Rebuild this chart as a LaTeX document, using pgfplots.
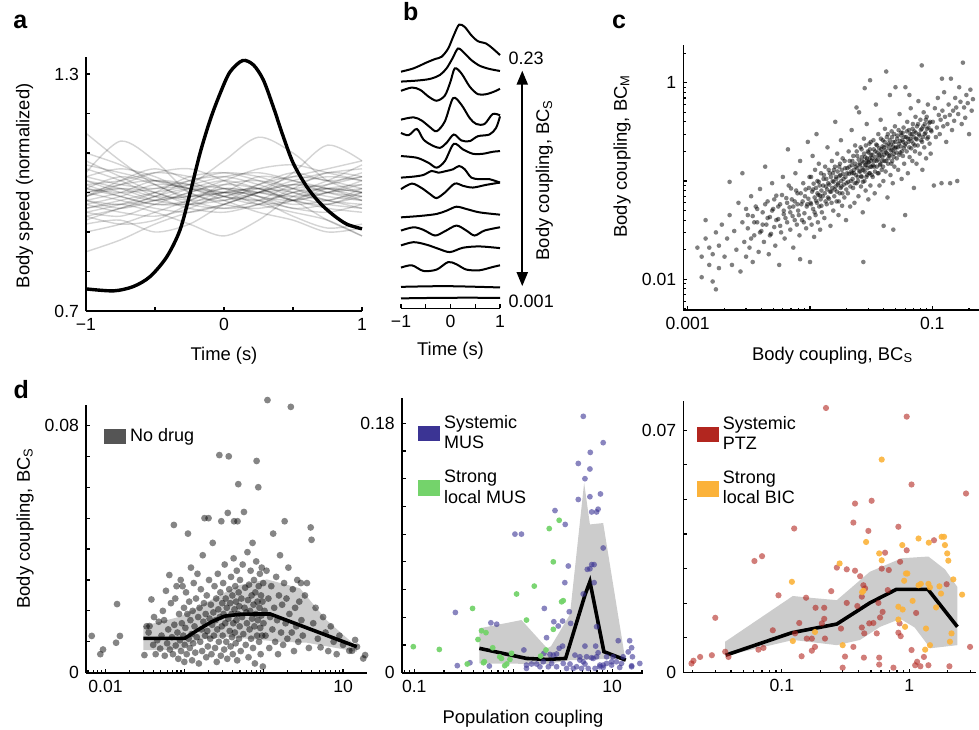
\documentclass[border=0pt]{standalone}
\usepackage{fontspec}
\setmainfont{Liberation Sans}
\usepackage{pgfplots}
\usepackage{pgfplotstable}
\pgfplotsset{compat=1.18}
\usetikzlibrary{arrows.meta}

\definecolor{musC}{HTML}{3B3494}
\definecolor{lmusC}{HTML}{74D36B}
\definecolor{ptzC}{HTML}{B2261F}
\definecolor{bicC}{HTML}{FBB23A}
\definecolor{nodrugC}{HTML}{555555}
\definecolor{shadeC}{HTML}{CCCCCC}

\pgfplotsset{
  panel/.style={
    scale only axis, axis lines*=left, enlargelimits=false, clip=false,
    tick align=inside, scaled ticks=false,
    axis line style={line width=0.8pt},
    major tick length=2pt, minor tick length=1.2pt,
    tick style={black, line width=0.6pt},
    tick label style={font=\fontsize{8.8}{10}\selectfont},
    label style={font=\fontsize{9.2}{11}\selectfont},
    /pgf/number format/assume math mode=true,
  },
  bg/.style={black, opacity=0.17, line width=0.7pt, smooth},
  tr/.style={black, line width=1pt, smooth},
  dots/.style n args={3}{only marks, mark=*, mark size=#1,
    mark options={draw=#2, line width=0pt, draw opacity=0, fill=#2, fill opacity=#3}},
  sq/.style={legend image code/.code={\fill[#1] (0pt,-3.6pt) rectangle (10.5pt,3.6pt);}},
  leg/.style={legend style={draw=none, fill=none, inner sep=0pt, row sep=5pt,
    font=\fontsize{9}{10.35}\selectfont, cells={anchor=west, align=left}},
    legend cell align=left},
}

% panel c: body coupling BC_S vs BC_M (subset of the cloud)
\pgfplotstableread{
x y
0.0012 0.021
0.0013 0.0105
0.0013 0.017
0.0014 0.040
0.0014 0.026
0.0015 0.014
0.0015 0.021
0.0016 0.018
0.0016 0.0095
0.0017 0.0079
0.0017 0.030
0.0018 0.022
0.0018 0.013
0.0019 0.036
0.0020 0.017
0.0021 0.026
0.0022 0.098
0.0022 0.045
0.0023 0.014
0.0024 0.031
0.0025 0.020
0.0026 0.060
0.0027 0.012
0.0028 0.120
0.0028 0.038
0.0029 0.024
0.0030 0.017
0.0030 0.052
0.0031 0.033
0.0031 0.045
0.0032 0.021
0.0033 0.070
0.0033 0.026
0.0034 0.044
0.0034 0.015
0.0035 0.028
0.0035 0.038
0.0036 0.055
0.0037 0.038
0.0037 0.052
0.0038 0.019
0.0039 0.083
0.0039 0.030
0.0040 0.031
0.0041 0.048
0.0041 0.036
0.0042 0.024
0.0043 0.140
0.0043 0.058
0.0044 0.036
0.0045 0.062
0.0045 0.042
0.0046 0.018
0.0047 0.043
0.0047 0.028
0.0048 0.029
0.0049 0.095
0.0049 0.050
0.0050 0.052
0.0051 0.034
0.0051 0.065
0.0052 0.022
0.0053 0.071
0.0053 0.040
0.0055 0.041
0.0055 0.055
0.0056 0.014
0.0057 0.058
0.0057 0.035
0.0058 0.030
0.0059 0.072
0.0060 0.110
0.0061 0.046
0.0061 0.050
0.0062 0.026
0.0063 0.042
0.0064 0.067
0.0065 0.038
0.0065 0.060
0.0066 0.210
0.0067 0.090
0.0068 0.054
0.0069 0.032
0.0069 0.048
0.0070 0.084
0.0071 0.065
0.0072 0.044
0.0073 0.021
0.0073 0.055
0.0075 0.062
0.0075 0.040
0.0076 0.120
0.0077 0.080
0.0078 0.036
0.0079 0.075
0.0079 0.058
0.0080 0.050
0.0081 0.045
0.0082 0.028
0.0083 0.160
0.0083 0.016
0.0084 0.075
0.0085 0.058
0.0086 0.040
0.0087 0.062
0.0088 0.095
0.0089 0.038
0.0090 0.047
0.0091 0.070
0.0092 0.082
0.0093 0.033
0.0094 0.055
0.0095 0.058
0.0096 0.250
0.0097 0.066
0.0098 0.085
0.0099 0.042
0.0099 0.110
0.0100 0.015
0.0101 0.060
0.0102 0.110
0.0102 0.058
0.0103 0.036
0.0104 0.078
0.0105 0.180
0.0106 0.052
0.0106 0.082
0.0107 0.094
0.0108 0.027
0.0109 0.068
0.0109 0.048
0.0110 0.130
0.0111 0.045
0.0112 0.085
0.0112 0.063
0.0113 0.300
0.0114 0.060
0.0115 0.100
0.0115 0.075
0.0116 0.038
0.0117 0.072
0.0118 0.150
0.0118 0.098
0.0119 0.055
0.0120 0.090
0.0121 0.032
0.0121 0.071
0.0122 0.065
0.0123 0.120
0.0124 0.080
0.0124 0.056
0.0125 0.048
0.0127 0.070
0.0128 0.090
0.0129 0.105
0.0130 0.115
0.0131 0.042
0.0132 0.075
0.0133 0.140
0.0134 0.062
0.0135 0.088
0.0136 0.105
0.0137 0.058
0.0138 0.082
0.0139 0.220
0.0140 0.068
0.0141 0.095
0.0142 0.130
0.0143 0.066
0.0144 0.092
0.0145 0.120
0.0146 0.078
0.0147 0.035
0.0148 0.110
0.0149 0.078
0.0150 0.060
0.0151 0.160
0.0152 0.085
0.0153 0.100
0.0154 0.120
0.0155 0.050
0.0156 0.098
0.0157 0.130
0.0158 0.070
0.0159 0.082
0.0160 0.140
0.0161 0.400
0.0162 0.088
0.0163 0.110
0.0164 0.105
0.0165 0.062
0.0166 0.078
0.0167 0.190
0.0168 0.125
0.0169 0.092
0.0170 0.095
0.0171 0.045
0.0172 0.062
0.0173 0.140
0.0174 0.112
0.0175 0.075
0.0176 0.150
0.0177 0.115
0.0178 0.085
0.0179 0.260
0.0180 0.100
0.0181 0.088
0.0182 0.130
0.0183 0.056
0.0184 0.075
0.0185 0.170
0.0186 0.118
0.0188 0.105
0.0189 0.092
0.0191 0.068
0.0192 0.160
0.0194 0.135
0.0195 0.110
0.0197 0.040
0.0198 0.082
0.0199 0.095
0.0201 0.120
0.0202 0.135
0.0204 0.075
0.0205 0.098
0.0207 0.200
0.0208 0.118
0.0210 0.140
0.0211 0.160
0.0213 0.055
0.0214 0.088
0.0216 0.100
0.0217 0.125
0.0219 0.330
0.0220 0.120
0.0220 0.145
0.0222 0.160
0.0223 0.105
0.0225 0.085
0.0226 0.180
0.0228 0.120
0.0229 0.130
0.0231 0.060
0.0232 0.095
0.0234 0.230
0.0235 0.150
0.0237 0.140
0.0238 0.115
0.0240 0.095
0.0240 0.560
0.0241 0.200
0.0243 0.180
0.0244 0.135
0.0246 0.110
0.0247 0.100
0.0249 0.070
0.0250 0.165
0.0252 0.500
0.0253 0.125
0.0255 0.150
0.0256 0.145
0.0258 0.125
0.0259 0.220
0.0261 0.088
0.0262 0.112
0.0264 0.210
0.0265 0.110
0.0265 0.175
0.0267 0.160
0.0268 0.135
0.0270 0.048
0.0271 0.098
0.0273 0.130
0.0273 0.015
0.0274 0.155
0.0276 0.270
0.0277 0.190
0.0279 0.100
0.0280 0.880
0.0280 0.125
0.0282 0.175
0.0283 0.145
0.0285 0.080
0.0286 0.230
0.0288 0.145
0.0289 0.110
0.0290 0.160
0.0291 0.380
0.0292 0.170
0.0294 0.115
0.0295 0.135
0.0297 0.200
0.0298 0.155
0.0300 0.065
0.0301 0.195
0.0303 0.155
0.0304 0.120
0.0306 0.240
0.0307 0.170
0.0309 0.120
0.0310 0.210
0.0310 1.060
0.0311 0.140
0.0312 0.090
0.0314 0.250
0.0315 0.185
0.0317 0.160
0.0318 0.140
0.0320 0.115
0.0322 0.170
0.0324 0.185
0.0326 0.110
0.0328 0.145
0.0330 0.260
0.0332 0.210
0.0334 0.140
0.0336 0.160
0.0338 0.075
0.0340 0.125
0.0342 0.200
0.0344 0.175
0.0346 0.600
0.0348 0.235
0.0350 0.160
0.0352 0.140
0.0354 0.230
0.0356 0.195
0.0358 0.120
0.0360 0.165
0.0362 0.300
0.0364 0.120
0.0366 0.185
0.0368 0.215
0.0370 0.090
0.0372 0.180
0.0374 0.145
0.0376 0.150
0.0378 0.420
0.0380 0.270
0.0382 0.210
0.0384 0.195
0.0386 0.130
0.0388 0.160
0.0390 0.175
0.0392 0.225
0.0394 0.260
0.0396 0.140
0.0398 0.100
0.0400 0.035
0.0402 0.220
0.0404 0.185
0.0406 0.160
0.0408 0.250
0.0410 0.340
0.0412 0.205
0.0415 0.125
0.0418 0.160
0.0420 0.195
0.0420 1.300
0.0423 0.230
0.0425 0.280
0.0428 0.190
0.0430 0.068
0.0433 0.300
0.0435 0.150
0.0438 0.170
0.0440 0.240
0.0443 0.215
0.0445 0.180
0.0448 0.260
0.0450 0.750
0.0453 0.185
0.0455 0.115
0.0458 0.235
0.0460 0.205
0.0463 0.150
0.0465 0.320
0.0468 0.280
0.0470 0.160
0.0473 0.205
0.0475 0.095
0.0478 0.225
0.0480 0.250
0.0480 0.032
0.0483 0.175
0.0485 0.190
0.0488 0.300
0.0490 0.140
0.0493 0.215
0.0495 0.360
0.0498 0.250
0.0500 0.900
0.0505 0.220
0.0508 0.195
0.0512 0.170
0.0515 0.270
0.0519 0.290
0.0522 0.220
0.0526 0.130
0.0530 0.330
0.0533 0.240
0.0537 0.185
0.0540 0.480
0.0544 0.255
0.0547 0.195
0.0551 0.225
0.0554 0.310
0.0558 0.290
0.0561 0.105
0.0565 0.200
0.0568 0.260
0.0572 0.310
0.0575 0.180
0.0579 0.250
0.0582 0.350
0.0586 0.215
0.0589 0.150
0.0593 0.280
0.0596 0.230
0.0600 0.045
0.0603 0.900
0.0606 0.240
0.0610 0.280
0.0617 0.200
0.0620 0.320
0.0624 0.400
0.0631 0.120
0.0634 0.270
0.0638 0.250
0.0645 0.330
0.0648 0.220
0.0650 0.750
0.0652 0.175
0.0659 0.270
0.0662 0.300
0.0666 0.550
0.0673 0.215
0.0676 0.255
0.0680 0.300
0.0687 0.160
0.0690 0.340
0.0694 0.380
0.0701 0.240
0.0704 0.280
0.0708 0.085
0.0715 0.320
0.0718 0.230
0.0722 0.200
0.0729 0.450
0.0732 0.310
0.0736 0.270
0.0743 0.150
0.0746 0.265
0.0750 0.360
0.0760 0.230
0.0765 0.380
0.0770 0.650
0.0780 0.300
0.0785 0.290
0.0790 0.190
0.0800 0.420
0.0805 0.330
0.0810 0.260
0.0820 0.340
0.0820 1.500
0.0825 0.250
0.0830 0.130
0.0840 0.280
0.0845 0.360
0.0850 0.500
0.0860 0.220
0.0865 0.300
0.0870 0.380
0.0880 0.310
0.0885 0.420
0.0890 0.170
0.0900 0.450
0.0905 0.340
0.0910 0.270
0.0920 0.600
0.0925 0.280
0.0930 0.350
0.0945 0.390
0.0950 0.240
0.0960 0.400
0.0970 0.190
0.0975 0.330
0.0985 0.320
0.101 0.400
0.103 0.090
0.105 0.550
0.107 0.280
0.109 0.350
0.111 0.700
0.113 0.470
0.115 0.300
0.117 0.420
0.119 0.095
0.120 1.100
0.121 0.520
0.123 0.360
0.125 0.800
0.127 0.450
0.130 0.250
0.133 0.380
0.136 0.600
0.139 0.470
0.140 0.095
0.142 1.100
0.145 0.330
0.148 0.520
0.151 0.410
0.154 0.700
0.157 0.560
0.160 0.100
0.163 0.480
0.166 0.900
0.170 0.640
0.174 0.380
0.178 1.600
0.182 0.560
0.186 0.440
0.190 0.750
0.195 0.620
0.200 0.300
0.205 0.850
0.210 0.520
0.215 0.680
}\ctab

% panel d, no drug
\pgfplotstableread{
x y
0.0067 0.0119
0.0086 0.0060
0.0093 0.0075
0.014 0.0222
0.0136 0.0097
0.0152 0.0119
0.031 0.0057
0.033 0.0150
0.035 0.0130
0.036 0.0151
0.038 0.0237
0.040 0.0090
0.041 0.0180
0.043 0.0060
0.045 0.0105
0.047 0.0165
0.049 0.0078
0.051 0.0120
0.053 0.0200
0.055 0.0170
0.056 0.0055
0.058 0.0265
0.060 0.0095
0.062 0.0140
0.064 0.0316
0.065 0.0075
0.067 0.0225
0.069 0.0115
0.071 0.0060
0.073 0.0478
0.074 0.0155
0.076 0.0240
0.077 0.0088
0.079 0.0280
0.081 0.0130
0.083 0.0045
0.085 0.0190
0.087 0.0105
0.089 0.0300
0.090 0.0070
0.092 0.0160
0.094 0.0280
0.096 0.0120
0.098 0.0210
0.099 0.0035
0.100 0.0090
0.102 0.0145
0.104 0.0260
0.106 0.0060
0.108 0.0190
0.110 0.0450
0.112 0.0110
0.114 0.0230
0.116 0.0080
0.118 0.0170
0.120 0.0340
0.122 0.0125
0.124 0.0040
0.126 0.0200
0.128 0.0095
0.130 0.0290
0.133 0.0150
0.136 0.0065
0.139 0.0240
0.142 0.0115
0.145 0.0320
0.148 0.0180
0.151 0.0030
0.154 0.0210
0.157 0.0100
0.160 0.0270
0.163 0.0140
0.166 0.0070
0.169 0.0380
0.172 0.0165
0.175 0.0225
0.178 0.0500
0.181 0.0120
0.184 0.0190
0.187 0.0050
0.190 0.0250
0.193 0.0135
0.196 0.0085
0.200 0.0500
0.203 0.0300
0.206 0.0175
0.210 0.0110
0.214 0.0220
0.218 0.0060
0.222 0.0155
0.226 0.0420
0.230 0.0195
0.234 0.0120
0.238 0.0280
0.242 0.0080
0.246 0.0170
0.250 0.0240
0.254 0.0035
0.258 0.0140
0.262 0.0320
0.266 0.0205
0.270 0.0100
0.274 0.0704
0.278 0.0180
0.282 0.0260
0.286 0.0055
0.290 0.0490
0.294 0.0150
0.298 0.0225
0.302 0.0120
0.306 0.0290
0.310 0.0190
0.315 0.0075
0.320 0.0350
0.325 0.0160
0.330 0.0240
0.335 0.0100
0.340 0.0210
0.345 0.0045
0.350 0.0517
0.355 0.0175
0.360 0.0700
0.365 0.0270
0.370 0.0135
0.375 0.0225
0.380 0.0085
0.385 0.0310
0.390 0.0190
0.395 0.0115
0.400 0.0250
0.405 0.0060
0.410 0.0160
0.415 0.0370
0.420 0.0490
0.425 0.0205
0.430 0.0130
0.435 0.0280
0.440 0.0095
0.445 0.0230
0.450 0.0170
0.455 0.0330
0.460 0.0040
0.465 0.0490
0.470 0.0190
0.475 0.0610
0.480 0.0260
0.485 0.0110
0.490 0.0215
0.495 0.0150
0.500 0.0300
0.510 0.0070
0.520 0.0240
0.530 0.0180
0.540 0.0350
0.550 0.0125
0.560 0.0520
0.570 0.0210
0.580 0.0275
0.590 0.0090
0.600 0.0195
0.610 0.0160
0.620 0.0390
0.630 0.0235
0.640 0.0050
0.650 0.0285
0.660 0.0140
0.670 0.0200
0.680 0.0330
0.690 0.0110
0.700 0.0250
0.710 0.0175
0.720 0.0420
0.730 0.0080
0.740 0.0220
0.750 0.0300
0.760 0.0150
0.770 0.0030
0.780 0.0260
0.790 0.0190
0.800 0.0360
0.810 0.0685
0.820 0.0120
0.830 0.0230
0.840 0.0170
0.850 0.0600
0.860 0.0280
0.870 0.0100
0.880 0.0210
0.890 0.0320
0.900 0.0145
0.910 0.0060
0.920 0.0250
0.930 0.0185
0.940 0.0340
0.950 0.0120
0.960 0.0230
0.970 0.0020
0.980 0.0290
0.990 0.0160
1.02 0.0200
1.05 0.0120
1.08 0.0330
1.11 0.0882
1.14 0.0240
1.17 0.0080
1.20 0.0180
1.24 0.0280
1.28 0.0140
1.31 0.0450
1.35 0.0210
1.39 0.0100
1.43 0.0310
1.47 0.0170
1.51 0.0060
1.55 0.0250
1.60 0.0380
1.65 0.0130
1.70 0.0220
1.75 0.0090
1.80 0.0290
1.83 0.0490
1.88 0.0160
1.93 0.0240
1.98 0.0110
2.04 0.0340
2.10 0.0190
2.19 0.0860
2.25 0.0130
2.32 0.0270
2.40 0.0070
2.48 0.0210
2.56 0.0150
2.64 0.0300
2.72 0.0100
2.80 0.0230
2.94 0.0290
2.98 0.0170
3.1 0.0120
3.3 0.0250
3.5 0.0290
3.7 0.0080
3.9 0.0470
4.0 0.0430
4.2 0.0160
4.5 0.0210
4.8 0.0110
5.2 0.0082
5.6 0.0180
6.0 0.0130
6.5 0.0070
7.0 0.0150
7.6 0.0100
8.3 0.0060
9.0 0.0120
10.0 0.0090
12.0 0.0071
13.0 0.0071
14.2 0.0106
15.0 0.0084
18.0 0.0046
19.0 0.0057
}\nodrugtab

% panel d, systemic MUS
\pgfplotstableread{
x y
5.1 0.185
8.1 0.166
6.0 0.159
4.54 0.151
5.95 0.147
5.3 0.140
4.54 0.125
5.95 0.127
7.6 0.129
7.2 0.118
6.95 0.116
6.2 0.116
2.64 0.117
3.35 0.107
1.04 0.100
1.21 0.100
8.1 0.090
6.2 0.078
5.95 0.075
5.6 0.0746
6.56 0.078
3.6 0.077
3.32 0.065
6.56 0.065
5.09 0.0568
3.68 0.044
3.8 0.0356
0.26 0.0435
0.594 0.036
0.68 0.035
2.06 0.0464
2.17 0.0253
2.57 0.0368
2.85 0.0337
3.15 0.0373
6.95 0.0332
11.5 0.0231
15.0 0.0231
15.7 0.018
14.5 0.015
0.272 0.0051
0.365 0.0072
0.573 0.0048
1.28 0.0164
1.36 0.0031
1.36 0.0055
1.53 0.0063
1.72 0.0063
1.86 0.0043
2.01 0.0079
2.04 0.0140
2.26 0.0043
2.35 0.0132
2.44 0.0067
2.54 0.0127
2.74 0.0135
2.74 0.0043
2.91 0.0176
3.15 0.0192
3.2 0.0067
3.46 0.0031
3.74 0.0063
4.04 0.0031
4.2 0.0127
4.36 0.0043
4.71 0.0115
4.71 0.0091
4.9 0.0031
5.09 0.0079
5.3 0.0063
5.3 0.0192
5.51 0.0115
5.72 0.0031
6.18 0.0108
6.43 0.0103
6.7 0.0031
6.8 0.0192
6.95 0.0115
7.2 0.0144
7.5 0.0043
7.5 0.0055
8.1 0.0055
8.1 0.0038
8.77 0.0067
8.77 0.0115
9.85 0.0079
9.85 0.0055
10.2 0.0115
11.0 0.0079
11.9 0.0038
12.4 0.0067
12.9 0.0115
15.7 0.0043
15.7 0.0050
16.0 0.0115
19.0 0.0067
}\mustab

% panel d, strong local MUS
\pgfplotstableread{
x y
0.0977 0.0188
0.179 0.0168
0.388 0.0464
0.343 0.0063
0.44 0.0240
0.478 0.0303
0.53 0.0289
0.50 0.0072
0.51 0.0080
0.62 0.0180
0.73 0.0115
0.76 0.0103
0.82 0.0051
0.86 0.0063
0.925 0.0096
0.96 0.0140
1.08 0.0568
1.36 0.0380
1.63 0.0625
1.89 0.0120
2.14 0.0164
2.31 0.104
2.54 0.080
2.54 0.0313
3.08 0.0512
3.2 0.052
2.91 0.110
}\lmustab

% panel d, systemic PTZ
\pgfplotstableread{
x y
0.0196 0.0026
0.0203 0.0034
0.0229 0.0045
0.0283 0.0050
0.0301 0.0158
0.036 0.0060
0.0382 0.0045
0.061 0.0322
0.070 0.0336
0.0656 0.0066
0.0718 0.0071
0.085 0.0122
0.0942 0.0223
0.125 0.0416
0.137 0.0143
0.127 0.0113
0.143 0.0047
0.155 0.0216
0.157 0.0098
0.172 0.0098
0.172 0.0063
0.184 0.0187
0.182 0.0074
0.215 0.0187
0.215 0.0155
0.206 0.0142
0.222 0.0764
0.244 0.0235
0.218 0.0098
0.270 0.0303
0.291 0.0127
0.313 0.0046
0.323 0.0298
0.323 0.0201
0.300 0.0014
0.375 0.0488
0.364 0.0433
0.375 0.0294
0.411 0.0278
0.391 0.0192
0.364 0.0074
0.424 0.0219
0.436 0.0252
0.450 0.0243
0.424 0.0130
0.443 0.0113
0.440 0.0043
0.477 0.0409
0.506 0.0496
0.485 0.0142
0.522 0.0143
0.555 0.0113
0.572 0.0201
0.580 0.0043
0.580 0.0023
0.607 0.0300
0.617 0.0175
0.589 0.0159
0.645 0.0346
0.690 0.0296
0.677 0.0238
0.750 0.0014
0.820 0.0421
0.846 0.0320
0.838 0.0142
0.820 0.0115
0.855 0.0105
0.953 0.0739
0.953 0.0353
1.04 0.0543
1.04 0.0065
1.13 0.0172
1.11 0.0021
1.15 0.0031
1.22 0.0018
1.30 0.0045
1.41 0.0021
1.56 0.0382
1.96 0.0255
2.06 0.0018
2.78 0.0517
2.99 0.0074
}\ptztab

% panel d, strong local BIC
\pgfplotstableread{
x y
0.120 0.0262
0.122 0.0091
0.182 0.0117
0.300 0.0079
0.284 0.0315
0.426 0.0232
0.436 0.0236
0.458 0.0377
0.580 0.0344
0.607 0.0324
0.607 0.0615
0.880 0.0368
0.964 0.0286
0.940 0.0286
0.910 0.0265
1.18 0.0387
1.42 0.0375
1.79 0.0392
1.87 0.0392
1.90 0.0368
1.98 0.0344
2.02 0.0323
2.21 0.0269
2.59 0.0225
0.820 0.0190
0.886 0.0182
0.820 0.0153
0.925 0.0132
1.06 0.0207
1.18 0.0252
1.23 0.0256
1.41 0.0256
1.45 0.0246
1.72 0.0249
1.77 0.0228
1.62 0.0188
1.35 0.0127
1.33 0.0066
1.45 0.0079
2.08 0.0089
2.14 0.0113
}\bictab

\begin{document}
\begin{tikzpicture}[font=\fontsize{9}{10.8}\selectfont]
\useasboundingbox (0,0) rectangle (489.5pt,-364.5pt);

% ---------------- a ----------------
\begin{axis}[panel, at={(43pt,-155.5pt)}, anchor=south west, width=138pt, height=127pt,
  xmin=-1, xmax=1, ymin=0.7, ymax=1.343,
  xtick={-1,-0.5,0,0.5,1}, xticklabels={−1,,0,,1},
  ytick={0.7,0.8,0.9,1,1.1,1.2,1.3}, yticklabels={0.7,,,,,,1.3},
  xlabel={Time (s)}, ylabel={Body speed (normalized)},
  xlabel style={at={(axis description cs:0.5,-0.193)}, anchor=base},
  ylabel style={at={(axis description cs:-0.205,0.493)}, anchor=base},
]
\addplot[bg] coordinates {(-1,1.15) (-0.75,1.08) (-0.5,1.02) (-0.25,0.99) (0,1.00) (0.25,1.01) (0.5,0.98) (0.75,1.00) (1,1.02)};
\addplot[bg] coordinates {(-1,0.85) (-0.75,0.88) (-0.5,0.92) (-0.25,0.95) (0,0.97) (0.25,1.00) (0.5,1.02) (0.75,1.00) (1,0.99)};
\addplot[bg] coordinates {(-1,1.05) (-0.75,1.13) (-0.5,1.08) (-0.25,1.00) (0,0.98) (0.25,1.02) (0.5,1.05) (0.75,1.03) (1,1.04)};
\addplot[bg] coordinates {(-1,0.96) (-0.75,0.98) (-0.5,1.00) (-0.25,1.02) (0,1.08) (0.25,1.14) (0.5,1.10) (0.75,1.03) (1,1.00)};
\addplot[bg] coordinates {(-1,0.92) (-0.75,0.93) (-0.5,0.90) (-0.25,0.92) (0,0.97) (0.25,1.00) (0.5,1.05) (0.75,1.12) (1,1.08)};
\addplot[bg] coordinates {(-1,1.00) (-0.75,1.02) (-0.5,1.03) (-0.25,1.01) (0,0.99) (0.25,0.98) (0.5,0.96) (0.75,0.95) (1,0.97)};
\addplot[bg] coordinates {(-1,0.98) (-0.75,0.97) (-0.5,0.99) (-0.25,1.03) (0,1.04) (0.25,1.02) (0.5,0.99) (0.75,0.97) (1,0.96)};
\addplot[bg] coordinates {(-1,1.03) (-0.75,1.01) (-0.5,0.98) (-0.25,0.97) (0,0.99) (0.25,1.01) (0.5,1.04) (0.75,1.06) (1,1.08)};
\addplot[bg] coordinates {(-1,0.94) (-0.75,0.96) (-0.5,0.99) (-0.25,1.01) (0,1.00) (0.25,0.97) (0.5,0.95) (0.75,0.93) (1,0.89)};
\addplot[bg] coordinates {(-1,1.07) (-0.75,1.05) (-0.5,1.03) (-0.25,1.02) (0,1.01) (0.25,0.99) (0.5,0.98) (0.75,1.00) (1,1.03)};
\addplot[bg] coordinates {(-1,0.99) (-0.75,1.01) (-0.5,1.00) (-0.25,0.97) (0,0.96) (0.25,0.98) (0.5,1.02) (0.75,1.04) (1,1.03)};
\addplot[bg] coordinates {(-1,1.01) (-0.75,0.99) (-0.5,0.97) (-0.25,0.98) (0,1.02) (0.25,1.03) (0.5,1.01) (0.75,0.99) (1,0.98)};
\addplot[bg] coordinates {(-1,0.95) (-0.75,0.97) (-0.5,1.00) (-0.25,1.04) (0,1.05) (0.25,1.03) (0.5,1.00) (0.75,0.98) (1,1.01)};
\addplot[bg] coordinates {(-1,1.04) (-0.75,1.06) (-0.5,1.04) (-0.25,1.00) (0,0.97) (0.25,0.96) (0.5,0.98) (0.75,1.02) (1,1.05)};
\addplot[bg] coordinates {(-1,0.97) (-0.75,0.95) (-0.5,0.94) (-0.25,0.96) (0,1.00) (0.25,1.04) (0.5,1.03) (0.75,1.01) (1,0.99)};
\addplot[bg] coordinates {(-1,1.02) (-0.75,1.03) (-0.5,1.05) (-0.25,1.04) (0,1.01) (0.25,0.99) (0.5,0.97) (0.75,0.98) (1,1.00)};
\addplot[bg] coordinates {(-1,0.90) (-0.75,0.92) (-0.5,0.95) (-0.25,0.98) (0,1.01) (0.25,1.00) (0.5,0.98) (0.75,0.96) (1,0.95)};
\addplot[bg] coordinates {(-1,1.08) (-0.75,1.04) (-0.5,1.00) (-0.25,0.98) (0,0.99) (0.25,1.02) (0.5,1.04) (0.75,1.03) (1,1.01)};
\addplot[bg] coordinates {(-1,1.00) (-0.75,0.98) (-0.5,0.96) (-0.25,0.95) (0,0.97) (0.25,1.00) (0.5,1.03) (0.75,1.05) (1,1.06)};
\addplot[bg] coordinates {(-1,0.99) (-0.75,1.02) (-0.5,1.05) (-0.25,1.06) (0,1.03) (0.25,0.99) (0.5,0.96) (0.75,0.97) (1,0.99)};
\addplot[bg] coordinates {(-1,0.93) (-0.75,0.96) (-0.5,0.98) (-0.25,0.99) (0,1.00) (0.25,1.01) (0.5,1.00) (0.75,0.98) (1,0.96)};
\addplot[bg] coordinates {(-1,1.06) (-0.75,1.03) (-0.5,0.99) (-0.25,0.96) (0,0.95) (0.25,0.97) (0.5,1.00) (0.75,1.01) (1,1.00)};
\addplot[bg] coordinates {(-1,1.01) (-0.75,1.00) (-0.5,1.01) (-0.25,1.03) (0,1.05) (0.25,1.04) (0.5,1.01) (0.75,0.98) (1,0.97)};
\addplot[bg] coordinates {(-1,0.97) (-0.75,0.99) (-0.5,1.02) (-0.25,1.01) (0,0.98) (0.25,0.95) (0.5,0.93) (0.75,0.90) (1,0.91)};
\addplot[bg] coordinates {(-1,0.96) (-0.75,0.97) (-0.5,0.95) (-0.25,0.92) (0,0.89) (0.25,0.93) (0.5,0.99) (0.75,1.01) (1,1.00)};
\addplot[bg] coordinates {(-1,1.03) (-0.75,1.00) (-0.5,0.98) (-0.25,1.00) (0,1.03) (0.25,1.06) (0.5,1.07) (0.75,1.05) (1,1.03)};
\addplot[bg] coordinates {(-1,0.98) (-0.75,1.00) (-0.5,1.03) (-0.25,1.02) (0,0.99) (0.25,0.98) (0.5,1.00) (0.75,1.03) (1,1.07)};
\addplot[bg] coordinates {(-1,1.00) (-0.75,1.01) (-0.5,0.99) (-0.25,0.99) (0,1.01) (0.25,1.00) (0.5,0.99) (0.75,1.00) (1,1.01)};
\addplot[bg] coordinates {(-1,0.95) (-0.75,0.94) (-0.5,0.97) (-0.25,1.00) (0,1.02) (0.25,1.01) (0.5,0.98) (0.75,0.93) (1,0.89)};
\addplot[bg] coordinates {(-1,1.10) (-0.75,1.07) (-0.5,1.03) (-0.25,1.01) (0,1.00) (0.25,1.00) (0.5,1.01) (0.75,1.02) (1,1.04)};
\addplot[bg] coordinates {(-1,1.02) (-0.75,0.99) (-0.5,0.97) (-0.25,0.97) (0,0.98) (0.25,1.00) (0.5,1.02) (0.75,1.01) (1,0.98)};
\addplot[bg] coordinates {(-1,0.99) (-0.75,1.03) (-0.5,1.06) (-0.25,1.03) (0,0.99) (0.25,0.97) (0.5,0.98) (0.75,1.01) (1,1.02)};
\addplot[bg] coordinates {(-1,0.94) (-0.75,0.92) (-0.5,0.93) (-0.25,0.97) (0,1.00) (0.25,0.98) (0.5,0.94) (0.75,0.91) (1,0.92)};
\addplot[bg] coordinates {(-1,1.04) (-0.75,1.02) (-0.5,1.01) (-0.25,1.02) (0,1.04) (0.25,1.05) (0.5,1.03) (0.75,1.00) (1,0.98)};
\addplot[bg] coordinates {(-1,0.98) (-0.75,0.96) (-0.5,0.98) (-0.25,1.01) (0,1.03) (0.25,1.01) (0.5,0.98) (0.75,0.97) (1,1.00)};
\addplot[bg] coordinates {(-1,1.01) (-0.75,1.04) (-0.5,1.02) (-0.25,0.98) (0,0.96) (0.25,0.97) (0.5,1.01) (0.75,1.05) (1,1.04)};
\addplot[black, line width=1.7pt, smooth] coordinates {
  (-1,0.756) (-0.80,0.751) (-0.657,0.762) (-0.536,0.787) (-0.415,0.837)
  (-0.319,0.905) (-0.246,0.998) (-0.174,1.099) (-0.101,1.183) (-0.029,1.250)
  (0.043,1.305) (0.135,1.334) (0.213,1.323) (0.285,1.285) (0.357,1.217)
  (0.430,1.141) (0.502,1.074) (0.599,1.015) (0.696,0.973) (0.792,0.943)
  (0.889,0.920) (1,0.908)};
\end{axis}

% ---------------- b ----------------
\begin{axis}[panel, at={(200.5pt,-154.15pt)}, anchor=south west, width=49.5pt, height=144.15pt,
  axis x line*=bottom, hide y axis,
  xmin=-1, xmax=1, ymin=-308.3, ymax=-18,
  xtick={-1,-0.5,0,0.5,1}, xticklabels={−1,,0,,1},
  xlabel={Time (s)},
  xlabel style={at={(axis description cs:0.5,-0.165)}, anchor=base},
]
\addplot[tr] coordinates {(-1,-70) (-0.747,-66.7) (-0.48,-60.7) (-0.313,-57.3) (-0.18,-55) (-0.047,-46.7) (0.067,-33.3) (0.173,-22.7) (0.287,-25) (0.42,-33.3) (0.553,-39.3) (0.72,-41.7) (0.853,-46.7) (1,-53.3)};
\addplot[tr] coordinates {(-1,-80) (-0.68,-79) (-0.413,-77.3) (-0.213,-73.3) (-0.08,-66.7) (0.04,-56.7) (0.153,-46.7) (0.287,-51.7) (0.42,-58.3) (0.587,-64) (0.787,-67.3) (1,-69.3)};
\addplot[tr] coordinates {(-1,-89.3) (-0.78,-86) (-0.613,-88.3) (-0.447,-95) (-0.28,-99.3) (-0.113,-94) (0,-80) (0.087,-66.7) (0.22,-71.7) (0.387,-85) (0.553,-92.7) (0.72,-92.7) (0.887,-90) (1,-87.3)};
\addplot[tr] coordinates {(-1,-118.3) (-0.747,-116) (-0.58,-119.3) (-0.413,-126) (-0.28,-130) (-0.113,-120) (0.053,-96.7) (0.22,-103.3) (0.387,-116.7) (0.52,-122.7) (0.687,-122.7) (0.853,-112.7) (1,-114)};
\addplot[tr] coordinates {(-1,-131.7) (-0.847,-134) (-0.68,-127.7) (-0.547,-138.3) (-0.38,-144) (-0.213,-146.7) (-0.08,-141.7) (0.067,-133.3) (0.22,-139.3) (0.387,-140) (0.553,-135) (0.787,-133.3) (0.92,-126.7) (1,-115)};
\addplot[tr] coordinates {(-1,-155) (-0.68,-156.7) (-0.447,-161.7) (-0.28,-166.7) (-0.113,-160) (0.067,-142.7) (0.253,-148.3) (0.453,-152.7) (0.653,-152.7) (0.853,-150.7) (1,-150)};
\addplot[tr] coordinates {(-1,-176.7) (-0.747,-175.7) (-0.547,-174) (-0.38,-170) (-0.247,-171.7) (-0.08,-170) (0.053,-168.3) (0.173,-165) (0.287,-168.3) (0.42,-176.7) (0.587,-178.3) (0.787,-178.3) (1,-181.7)};
\addplot[tr] coordinates {(-1,-188.3) (-0.78,-182.7) (-0.58,-187.3) (-0.413,-193.3) (-0.28,-197.3) (-0.113,-191.7) (0.087,-182.7) (0.253,-185) (0.453,-186.7) (0.72,-184) (1,-181.7)};
\addplot[tr] coordinates {(-1,-216.7) (-0.613,-215.3) (-0.28,-213.3) (-0.08,-210) (0.12,-206) (0.32,-208.3) (0.587,-211.7) (1,-214)};
\addplot[tr] coordinates {(-1,-230) (-0.747,-226.7) (-0.547,-229.3) (-0.313,-235) (-0.113,-230.7) (0.12,-225) (0.32,-230) (0.487,-235) (0.687,-230) (1,-226.7)};
\addplot[tr] coordinates {(-1,-245) (-0.747,-241.7) (-0.48,-244.3) (-0.247,-248.3) (-0.013,-251.7) (0.253,-247.3) (0.587,-246) (1,-247.7)};
\addplot[tr] coordinates {(-1,-267.3) (-0.78,-265) (-0.547,-270.7) (-0.28,-269.3) (-0.047,-261.7) (0.12,-264) (0.32,-269.3) (0.587,-270) (0.853,-266.7) (1,-265)};
\addplot[tr] coordinates {(-1,-286.7) (-0.08,-286) (1,-287.3)};
\addplot[tr] coordinates {(-1,-298.3) (-0.08,-297.7) (1,-297.7)};
\node[anchor=base west, inner sep=0pt] at (axis cs:1.168,-63.3) {0.23};
\node[anchor=base west, inner sep=0pt] at (axis cs:1.168,-307.3) {0.001};
\draw[{Triangle[length=7pt,width=5.5pt]}-{Triangle[length=7pt,width=5.5pt]}, line width=1pt]
  (axis cs:1.45,-69) -- (axis cs:1.45,-286);
\node[rotate=90, anchor=base, inner sep=0pt, font=\fontsize{9.2}{11}\selectfont]
  at (axis cs:1.994,-179) {Body coupling, BC\textsubscript{S}};
\end{axis}

% ---------------- c ----------------
\begin{axis}[panel, at={(341.65pt,-155pt)}, anchor=south west, width=147.85pt, height=132.5pt,
  xmode=log, ymode=log,
  xmin=0.00092, xmax=0.241, ymin=0.00487, ymax=2.42,
  xtick={0.001,0.01,0.1}, xticklabels={0.001,,0.1},
  minor xtick={0.002,0.003,0.004,0.005,0.006,0.007,0.008,0.009,0.02,0.03,0.04,0.05,0.06,0.07,0.08,0.09,0.2},
  ytick={0.01,0.1,1}, yticklabels={0.01,,1},
  minor ytick={0.005,0.006,0.007,0.008,0.009,0.02,0.03,0.04,0.05,0.06,0.07,0.08,0.09,0.2,0.3,0.4,0.5,0.6,0.7,0.8,0.9,2},
  xlabel={Body coupling, BC\textsubscript{S}}, ylabel={Body coupling, BC\textsubscript{M}},
  xlabel style={at={(axis description cs:0.505,-0.189)}, anchor=base},
  ylabel style={at={(axis description cs:-0.191,0.581)}, anchor=base},
]
\addplot[dots={1.15pt}{black}{0.5}] table[x=x, y=y] {\ctab};
\end{axis}

% ---------------- d (no drug) ----------------
\begin{axis}[panel, at={(43pt,-336.35pt)}, anchor=south west, width=140.35pt, height=133.85pt,
  xmode=log, xmin=0.00567, xmax=19.9, ymin=0, ymax=0.0866,
  xtick={0.01,0.1,1,10}, xticklabels={0.01,,,10},
  minor xtick={0.006,0.007,0.008,0.009,0.02,0.03,0.04,0.05,0.06,0.07,0.08,0.09,0.2,0.3,0.4,0.5,0.6,0.7,0.8,0.9,2,3,4,5,6,7,8,9},
  ytick={0,0.01,0.02,0.03,0.04,0.05,0.06,0.07,0.08}, yticklabels={0,,,,,,,,0.08},
  ylabel={Body coupling, BC\textsubscript{S}},
  ylabel style={at={(axis description cs:-0.2,0.54)}, anchor=base},
  leg, legend style={at={(axis description cs:0.064,0.93)}, anchor=north west},
]
\addplot[fill=shadeC, draw=none, forget plot] coordinates {
  (0.030,0.0151) (0.087,0.0181) (0.279,0.0251) (0.5,0.0284) (1.09,0.0302) (2.86,0.0273) (6.2,0.017) (14.9,0.0084)
  (14.9,0.0068) (3.5,0.0097) (1.6,0.0100) (0.35,0.0116) (0.142,0.0106) (0.087,0.0075) (0.030,0.0073)};
\addplot[dots={1.7pt}{black}{0.48}, forget plot] table[x=x, y=y] {\nodrugtab};
\addplot[black, line width=1.8pt, forget plot] coordinates {
  (0.030,0.0111) (0.10,0.0111) (0.15,0.0140) (0.22,0.0165) (0.32,0.0183) (0.5,0.0189) (0.8,0.0190) (1.2,0.0190) (14.9,0.0084)};
\addlegendimage{sq=nodrugC}
\addlegendentry{No drug}
\end{axis}

% ---------------- d (MUS) ----------------
\begin{axis}[panel, at={(200.85pt,-336.35pt)}, anchor=south west, width=120.8pt, height=137.2pt,
  xmode=log, xmin=0.0746, xmax=20.6, ymin=0, ymax=0.198,
  xtick={0.1,1,10}, xticklabels={0.1,,10},
  minor xtick={0.08,0.09,0.2,0.3,0.4,0.5,0.6,0.7,0.8,0.9,2,3,4,5,6,7,8,9,20},
  ytick={0,0.02,0.04,0.06,0.08,0.1,0.12,0.14,0.16,0.18}, yticklabels={0,,,,,,,,,0.18},
  xlabel={Population coupling},
  xlabel style={at={(axis description cs:0.502,-0.184)}, anchor=base},
  leg, legend style={at={(axis description cs:0.067,0.955)}, anchor=north west},
]
\addplot[fill=shadeC, draw=none, forget plot] coordinates {
  (0.454,0.032) (1.21,0.038) (2.2,0.0176) (2.4,0.019) (3.74,0.042) (5.2,0.137) (5.95,0.107) (8.1,0.108) (13.4,0.0116)
  (13.4,0.0103) (3.74,0.009) (2.17,0.0063) (0.454,0.0067)};
\addplot[dots={1.45pt}{musC}{0.6}, forget plot] table[x=x, y=y] {\mustab};
\addplot[dots={1.45pt}{lmusC}{0.95}, forget plot] table[x=x, y=y] {\lmustab};
\addplot[black, line width=1.8pt, forget plot] coordinates {
  (0.454,0.0176) (1.36,0.0103) (2.17,0.0096) (3.38,0.0103) (5.3,0.056) (5.95,0.0657) (8.24,0.0152) (13.7,0.0091)};
\addlegendimage{sq=musC}
\addlegendentry{Systemic\\MUS}
\addlegendimage{sq=lmusC}
\addlegendentry{Strong\\local MUS}
\end{axis}

% ---------------- d (PTZ / BIC) ----------------
\begin{axis}[panel, at={(341.65pt,-336.25pt)}, anchor=south west, width=146.35pt, height=135.9pt,
  xmode=log, xmin=0.0169, xmax=3.33, ymin=0, ymax=0.0785,
  xtick={0.1,1}, xticklabels={0.1,1},
  minor xtick={0.02,0.03,0.04,0.05,0.06,0.07,0.08,0.09,0.2,0.3,0.4,0.5,0.6,0.7,0.8,0.9,2,3},
  ytick={0,0.01,0.02,0.03,0.04,0.05,0.06,0.07}, yticklabels={0,,,,,,,0.07},
  leg, legend style={at={(axis description cs:0.046,0.96)}, anchor=north west},
]
\addplot[fill=shadeC, draw=none, forget plot] coordinates {
  (0.036,0.0089) (0.122,0.0221) (0.177,0.0215) (0.27,0.0209) (0.49,0.0291) (0.87,0.0330) (1.41,0.0335) (1.9,0.0298) (2.38,0.0247)
  (2.38,0.0079) (1.46,0.0070) (1.1,0.0130) (0.85,0.0155) (0.59,0.0132) (0.41,0.0094) (0.27,0.0079) (0.123,0.0094) (0.036,0.0048)};
\addplot[dots={1.55pt}{ptzC}{0.6}, forget plot] table[x=x, y=y] {\ptztab};
\addplot[dots={1.55pt}{bicC}{0.9}, forget plot] table[x=x, y=y] {\bictab};
\addplot[black, line width=1.8pt, forget plot] coordinates {
  (0.0363,0.0050) (0.12,0.0115) (0.27,0.0140) (0.49,0.0201) (0.79,0.0240) (1.40,0.0240) (2.38,0.0132)};
\addlegendimage{sq=ptzC}
\addlegendentry{Systemic\\PTZ}
\addlegendimage{sq=bicC}
\addlegendentry{Strong\\local BIC}
\end{axis}

% panel letters
\node[anchor=base west, inner sep=0pt, font=\fontsize{12.5}{14}\selectfont\bfseries] at (6.5pt,-14.15pt) {a};
\node[anchor=base west, inner sep=0pt, font=\fontsize{12.5}{14}\selectfont\bfseries] at (201.35pt,-10pt) {b};
\node[anchor=base west, inner sep=0pt, font=\fontsize{12.5}{14}\selectfont\bfseries] at (305.85pt,-14.15pt) {c};
\node[anchor=base west, inner sep=0pt, font=\fontsize{12.5}{14}\selectfont\bfseries] at (6.65pt,-199.15pt) {d};
\end{tikzpicture}
\end{document}
